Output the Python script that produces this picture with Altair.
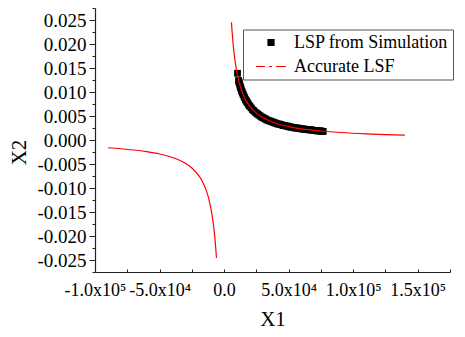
import altair as alt
import pandas as pd

# Accurate limit-state function (two branches)
neg_x1 = [-90000, -80000, -70000, -60000, -50000, -40000, -35000, -30000, -25000,
          -20000, -17000, -14000, -12000, -10000, -9000, -8000, -7000, -6500, -5900]
neg_x2 = [-0.00162, -0.00182, -0.00208, -0.00243, -0.00291, -0.00364, -0.00416, -0.00485,
          -0.00582, -0.00728, -0.00856, -0.0104, -0.0121, -0.0146, -0.0162, -0.0182,
          -0.0208, -0.0224, -0.0246]
pos_x1 = [5700, 6200, 7000, 8000, 9000, 10000, 11500, 13000, 15000, 17500, 20000, 25000,
          30000, 40000, 50000, 60000, 75000, 90000, 110000, 125000, 140000]
pos_x2 = [0.0245, 0.0226, 0.0200, 0.0175, 0.0156, 0.0140, 0.0122, 0.0108, 0.0093, 0.0080,
          0.0070, 0.0056, 0.0047, 0.0035, 0.0028, 0.0023, 0.00187, 0.00156, 0.00127,
          0.00112, 0.00100]

# LSP from simulation (black squares)
sim_x1 = [10400, 11200, 11500, 11800, 12100, 12400, 12700, 13000, 13400, 13800, 14200,
          14600, 15000, 15500, 16000, 16500, 17000, 17500, 18000, 18700, 19400, 20000,
          21000, 22000, 23000, 24000, 25000, 26000, 27000, 28000, 29000, 30000, 31000,
          32000, 33000, 34000, 35000, 36000, 37000, 38000, 39000, 40000, 41000, 42000,
          43000, 44000, 45000, 46000, 47000, 48000, 49000, 50000, 51000, 52000, 53000,
          54000, 55000, 56000, 57000, 58000, 59000, 60000, 61000, 62000, 63000, 64000,
          65000, 66000, 67000, 68000, 69000, 70000, 71000, 72000, 73000, 74000, 75000,
          76000, 76800]
sim_x2 = [0.0139, 0.0124, 0.0121, 0.0119, 0.0116, 0.0112, 0.0110, 0.0108, 0.0104, 0.0101,
          0.0099, 0.0095, 0.0094, 0.0090, 0.0088, 0.0084, 0.0083, 0.0080, 0.0078, 0.0075,
          0.0072, 0.0070, 0.0067, 0.0063, 0.0061, 0.0058, 0.0056, 0.0054, 0.0052, 0.0050,
          0.0048, 0.0047, 0.0045, 0.0044, 0.0042, 0.0041, 0.0040, 0.0039, 0.0038, 0.0037,
          0.0036, 0.0035, 0.0034, 0.0033, 0.0033, 0.0032, 0.0031, 0.0030, 0.0030, 0.0029,
          0.0029, 0.0028, 0.0027, 0.0027, 0.0026, 0.0026, 0.0025, 0.0025, 0.0025, 0.0024,
          0.0024, 0.0023, 0.0023, 0.0023, 0.0022, 0.0022, 0.0022, 0.0021, 0.0021, 0.0021,
          0.0020, 0.0020, 0.0020, 0.0019, 0.0019, 0.0019, 0.0019, 0.0018, 0.0018]

series_names = ["LSP from Simulation", "Accurate LSF"]

x_major = [-100000, -50000, 0, 50000, 100000, 150000]
x_major_labels = ["-1.0x10\u2075", "-5.0x10\u2074", "0.0", "5.0x10\u2074", "1.0x10\u2075", "1.5x10\u2075"]
x_minor = [-75000, -25000, 25000, 75000, 125000, 175000]
y_major = [-0.025, -0.020, -0.015, -0.010, -0.005, 0.0, 0.005, 0.010, 0.015, 0.020, 0.025]
y_major_labels = ["-0.025", "-0.020", "-0.015", "-0.010", "-0.005", "0.000",
                  "0.005", "0.010", "0.015", "0.020", "0.025"]
y_minor = [-0.0275, -0.0225, -0.0175, -0.0125, -0.0075, -0.0025,
           0.0025, 0.0075, 0.0125, 0.0175, 0.0225, 0.0275]

curve = pd.DataFrame({
    "X1": neg_x1 + pos_x1,
    "X2": neg_x2 + pos_x2,
    "branch": ["neg"] * len(neg_x1) + ["pos"] * len(pos_x1),
})
sim = pd.DataFrame({"X1": sim_x1, "X2": sim_x2, "series": series_names[0]})

FONT = "Liberation Serif"
H = 264


def label_expr(values, labels):
    parts = "".join(
        f"abs(datum.value - ({v})) < {abs(values[1]-values[0]) * 1e-3} ? '{l}' : "
        for v, l in zip(values, labels)
    )
    return parts + "''"


# bottom x axis: line + labels + title (ticks drawn by the inner axis)
x_axis = alt.Axis(
    values=x_major,
    labelExpr=label_expr(x_major, x_major_labels),
    ticks=False,
    grid=False, labelFont=FONT, labelFontSize=18, labelColor="black",
    labelPadding=9, labelFlush=False, labelOverlap=False,
    domainColor="#222", domainWidth=1.2,
    title="X1", titleFont=FONT, titleFontSize=21, titleFontWeight="normal",
    titleColor="black", titleY=53, titleBaseline="alphabetic",
)
# inner ticks along the bottom, pointing into the plot
x_ticks_axis = alt.Axis(
    orient="top", offset=-H,
    values=sorted(x_major + x_minor),
    labels=False, domain=False, grid=False, title=None,
    tickSize=3, tickColor="#222", tickWidth=1,
)
y_axis = alt.Axis(
    values=sorted(y_major + y_minor),
    labelExpr=label_expr(y_major, y_major_labels),
    tickSize={"condition": {"test": "abs(datum.value*200 - round(datum.value*200)) < 0.01",
                            "value": 6}, "value": 3},
    grid=False, labelFont=FONT, labelFontSize=19, labelColor="black",
    labelPadding=3, labelFlush=False, labelOverlap=False,
    domainColor="#222", tickColor="#222", domainWidth=1.2, tickWidth=1,
    title="X2", titleFont=FONT, titleFontSize=21, titleFontWeight="normal",
    titleColor="black", titleX=-76, titleY=144, titleAngle=270,
    titleBaseline="middle", titleAlign="center",
)

xs = alt.Scale(domain=[-100000, 175000], nice=False, zero=False)
ys = alt.Scale(domain=[-0.0275, 0.0275], nice=False, zero=False)

legend = alt.Legend(
    orient="none", legendX=148, legendY=21.5, title=None,
    symbolType={"expr": "datum.label == 'Accurate LSF' ? 'M-1.875,0H-0.75M-0.25,0H0.125M0.625,0H1.875' : 'M-0.375,-0.375H0.375V0.375H-0.375Z'"},
    symbolSize=256,
    symbolStrokeColor={"expr": "datum.label == 'Accurate LSF' ? 'red' : 'black'"},
    symbolStrokeWidth=1.2,
    labelFont=FONT, labelFontSize=18, labelColor="black", labelLimit=400,
    labelExpr="datum.label + '                              '",
    strokeColor="#555", fillColor="white", padding=4, rowPadding=6,
    symbolOffset=15, labelOffset=14,
)

pts = alt.Chart(sim).mark_square(size=46, opacity=1).encode(
    x=alt.X("X1:Q", scale=xs, axis=x_axis),
    y=alt.Y("X2:Q", scale=ys, axis=y_axis),
    color=alt.Color("series:N", scale=alt.Scale(domain=series_names, range=["black", "red"]),
                    legend=legend),
)

line = alt.Chart(curve).mark_line(strokeWidth=1.2, interpolate="monotone").encode(
    x=alt.X("X1:Q", scale=xs, axis=x_ticks_axis),
    y=alt.Y("X2:Q", scale=ys, axis=y_axis),
    detail="branch:N",
    color=alt.value("red"),
)

chart = alt.layer(pts, line).resolve_axis(x="independent").properties(
    width=355, height=H,
    autosize=alt.AutoSizeParams(type="none"),
    padding={"left": 87, "top": 0, "right": 7, "bottom": 57},
).configure_view(stroke=None)

chart.save("out.html", embed_options={"renderer": "svg", "actions": False})
